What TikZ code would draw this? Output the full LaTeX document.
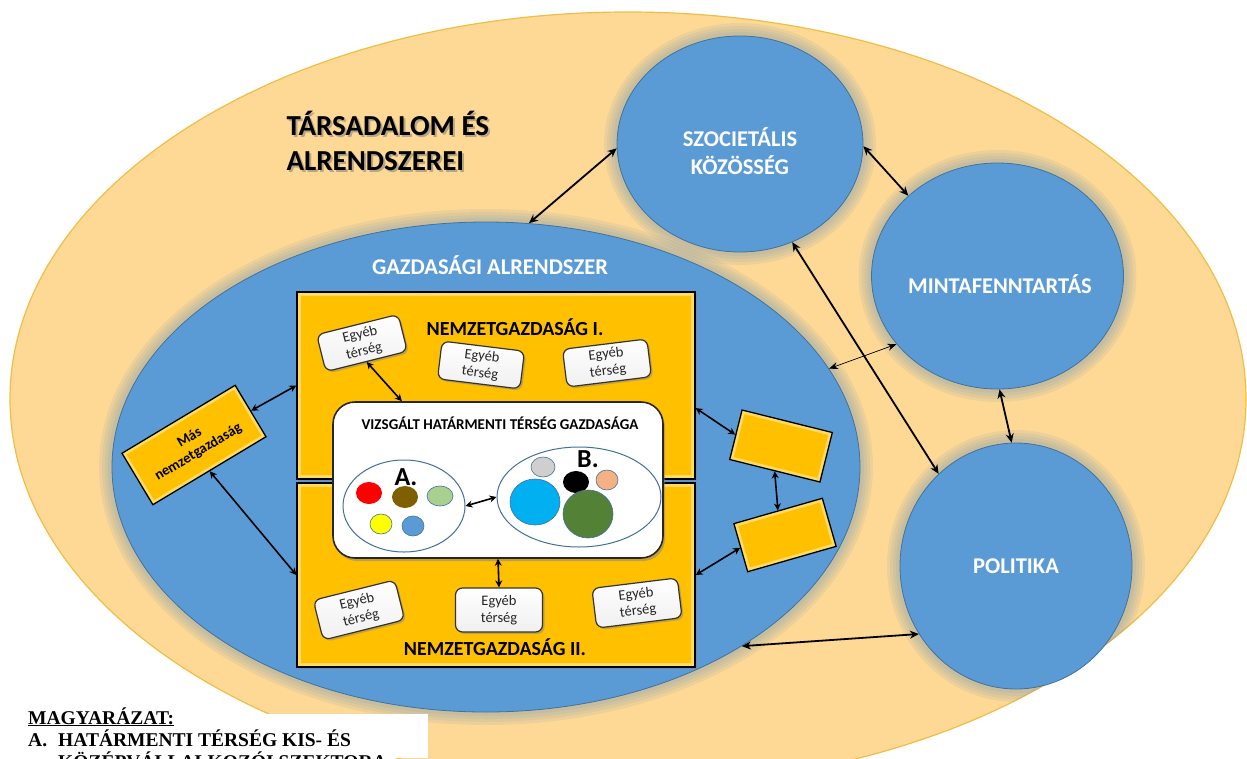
\documentclass[tikz,border=0pt]{standalone}
\usepackage{fontspec}
\setmainfont{Carlito}
\newfontfamily\legendfont{Liberation Serif}
\usetikzlibrary{shapes.geometric,arrows.meta,shadows,calc}
\definecolor{bgorange}{RGB}{254,217,150}
\definecolor{bgedge}{RGB}{238,190,70}
\definecolor{blueF}{RGB}{91,155,213}
\definecolor{blueD}{RGB}{65,113,156}
\definecolor{glowc}{RGB}{125,155,175}
\definecolor{goldF}{RGB}{255,192,0}
\definecolor{goldL}{RGB}{255,218,100}
\definecolor{cRed}{RGB}{255,0,0}
\definecolor{cBrown}{RGB}{127,96,0}
\definecolor{cLgreen}{RGB}{169,208,142}
\definecolor{cYellow}{RGB}{255,255,0}
\definecolor{cGray}{RGB}{208,206,206}
\definecolor{cSalmon}{RGB}{244,177,131}
\definecolor{cCyan}{RGB}{0,176,240}
\definecolor{cGreen}{RGB}{83,129,53}
\tikzset{
  bluecirc/.style={ellipse, fill=blueF, draw=blueD, line width=0.8pt, inner sep=0pt},
  whitelbl/.style={text=white, font=\bfseries\fontsize{22.5}{28}\selectfont, align=center},
  glowring/.style={draw=glowc, opacity=0.13},
  biarrow/.style={{Stealth[length=9pt,width=8pt]}-{Stealth[length=9pt,width=8pt]}, line width=1.8pt, black},
  thinarrow/.style={{Stealth[length=9pt,width=7pt]}-{Stealth[length=9pt,width=7pt]}, line width=0.7pt, black},
  smallarrow/.style={{Stealth[length=7pt,width=7pt]}-{Stealth[length=7pt,width=7pt]}, line width=1.6pt, black},
  egyeb/.style={rectangle, rounded corners=7pt, top color=white, bottom color=black!6, draw=black!80, line width=1.2pt, align=center, font=\fontsize{14.5}{17}\selectfont, text=black!85, inner sep=0pt, drop shadow={shadow xshift=2pt, shadow yshift=-2pt, opacity=0.45}},
  goldbox/.style={rectangle, fill=goldL, draw=black, line width=1.3pt, inner sep=0pt},
  goldin/.style={rectangle, fill=goldF, inner sep=0pt},
  dot/.style={ellipse, inner sep=0pt},
  setell/.style={ellipse, draw=blueD, line width=1pt, inner sep=0pt},
}
\newcommand\myglow[4]{%
  \foreach \w in {26,20,14,8}{\draw[glowring, line width=\w pt] (#1,#2) ellipse [x radius=#3, y radius=#4];}}
\begin{document}
\begin{tikzpicture}[x=1pt,y=-1pt]
\useasboundingbox (0,0) rectangle (1247,758);
% outer society ellipse
\fill[bgorange, draw=bgedge, line width=1.2pt] (628,399) ellipse [x radius=618, y radius=387];
% glows
\begin{scope}
\clip (628,399) ellipse [x radius=618, y radius=387];
\myglow{486}{467}{374}{245}
\myglow{740}{144}{123}{108}
\myglow{997.5}{276}{126}{113}
\myglow{1016}{566}{116}{123}
\end{scope}
% blue shapes
\node[bluecirc, minimum width=748pt, minimum height=490pt] (gaz) at (486,467) {};
\node[bluecirc, minimum width=246pt, minimum height=216pt] (szoc) at (740,144) {};
\node[bluecirc, minimum width=252pt, minimum height=226pt] (minta) at (997.5,276) {};
\node[bluecirc, minimum width=232pt, minimum height=246pt] (pol) at (1016,566) {};
\node[whitelbl] (szocT) at (740,151) {SZOCIETÁLIS\\KÖZÖSSÉG};
\node[whitelbl] (mintaT) at (1000,284) {MINTAFENNTARTÁS};
\node[whitelbl] (polT) at (1016,566) {POLITIKA};
\node[whitelbl] (gazT) at (490,265) {GAZDASÁGI ALRENDSZER};
% title
\node[anchor=west, align=left, text=black!55, opacity=0.5, font=\bfseries\fontsize{29}{35}\selectfont] at (285,143) {TÁRSADALOM ÉS\\ALRENDSZEREI};
\node[anchor=west, align=left, font=\bfseries\fontsize{29}{35}\selectfont] (title) at (283,141) {TÁRSADALOM ÉS\\ALRENDSZEREI};
% national economies
\node[goldbox, minimum width=398pt, minimum height=187pt, drop shadow={shadow xshift=2pt, shadow yshift=-2pt, opacity=0.5}] (n1) at (496,385.5) {};
\node[goldin, minimum width=390pt, minimum height=179pt] at (n1) {};
\node[goldbox, minimum width=398pt, minimum height=184pt, drop shadow={shadow xshift=2pt, shadow yshift=-2pt, opacity=0.5}] (n2) at (496,575) {};
\node[goldin, minimum width=390pt, minimum height=176pt] at (n2) {};
\node[font=\bfseries\fontsize{20}{22}\selectfont] (n1T) at (515,327) {NEMZETGAZDASÁG I.};
\node[font=\bfseries\fontsize{20}{22}\selectfont] (n2T) at (495,647) {NEMZETGAZDASÁG II.};
% other national economy
\node[goldbox, minimum width=132pt, minimum height=60pt, rotate=31] (mas) at (194,445) {};
\node[goldin, minimum width=125pt, minimum height=53pt, rotate=31, align=center, font=\bfseries\fontsize{14.5}{17}\selectfont] (masT) at (mas) {Más\\nemzetgazdaság};
\node[goldbox, minimum width=93pt, minimum height=51pt, rotate=-14] (r1) at (781,446) {};
\node[goldin, minimum width=86pt, minimum height=44pt, rotate=-14] at (r1) {};
\node[goldbox, minimum width=92pt, minimum height=50pt, rotate=16] (r2) at (785,535) {};
\node[goldin, minimum width=85pt, minimum height=43pt, rotate=16] at (r2) {};
% other regions
\node[egyeb, minimum width=84pt, minimum height=38pt, rotate=14] (e1) at (362,343) {Egyéb\\térség};
\node[egyeb, minimum width=83pt, minimum height=38pt, rotate=-7] (e2) at (481,365) {Egyéb\\térség};
\node[egyeb, minimum width=85pt, minimum height=38pt, rotate=7] (e3) at (607,363) {Egyéb\\térség};
\node[egyeb, minimum width=84pt, minimum height=41pt, rotate=14] (e4) at (359,610) {Egyéb\\térség};
\node[egyeb, minimum width=87pt, minimum height=44pt] (e5) at (499,610) {Egyéb\\térség};
\node[egyeb, minimum width=86pt, minimum height=40pt, rotate=7] (e6) at (637,603) {Egyéb\\térség};
% examined region
\node[rectangle, rounded corners=22pt, fill=white, draw=black!85, line width=1.6pt, minimum width=330pt, minimum height=156pt, inner sep=0pt, drop shadow={shadow xshift=2pt, shadow yshift=-3pt, opacity=0.5}] (vb) at (498,480) {};
\node[font=\bfseries\fontsize{15}{17}\selectfont] (vbT) at (500,423) {VIZSGÁLT HATÁRMENTI TÉRSÉG GAZDASÁGA};
\node[setell, minimum width=122pt, minimum height=92pt] (ea) at (404,506) {};
\node[setell, minimum width=164pt, minimum height=100pt] (eb) at (579,497) {};
\node[dot, fill=cRed, minimum width=26pt, minimum height=22pt] (a1) at (369,493) {};
\node[dot, fill=cBrown, minimum width=26pt, minimum height=22pt] (a2) at (405,497) {};
\node[dot, fill=cLgreen, draw=blueD, line width=0.6pt, minimum width=26pt, minimum height=20pt] (a3) at (440,496) {};
\node[dot, fill=cYellow, draw=blueD, line width=0.6pt, minimum width=22pt, minimum height=20pt] (a4) at (381,524) {};
\node[dot, fill=blueF, draw=blueD, line width=0.6pt, minimum width=22pt, minimum height=20pt] (a5) at (413,526) {};
\node[dot, fill=cGray, draw=blueD, line width=0.6pt, minimum width=24pt, minimum height=20pt] (b1) at (543,467) {};
\node[dot, fill=black, minimum width=26pt, minimum height=22pt] (b2) at (576,482) {};
\node[dot, fill=cSalmon, draw=blueD, line width=0.6pt, minimum width=22pt, minimum height=20pt] (b3) at (607,480) {};
\node[dot, fill=cCyan, draw=blueD, line width=0.6pt, minimum width=50pt, minimum height=46pt] (b4) at (535,502) {};
\node[dot, fill=cGreen, draw=blueD, line width=0.6pt, minimum width=50pt, minimum height=48pt] (b5) at (588,514) {};
\node[font=\bfseries\fontsize{26}{28}\selectfont] (aT) at (406,477) {A.};
\node[font=\bfseries\fontsize{26}{28}\selectfont] (bT) at (588,459) {B.};
% legend
\fill[white] (0,714) rectangle (428,758);
\node[anchor=base west, inner sep=0pt, font=\legendfont\bfseries\fontsize{19.5}{22}\selectfont] (lg1) at (28,724) {\underline{MAGYARÁZAT:}};
\node[anchor=base west, inner sep=0pt, font=\legendfont\bfseries\fontsize{19.5}{22}\selectfont] (lg2a) at (28,746) {A.};
\node[anchor=base west, inner sep=0pt, font=\legendfont\bfseries\fontsize{19.5}{22}\selectfont] (lg2) at (58,746) {HATÁRMENTI TÉRSÉG KIS- ÉS};
\node[anchor=base west, inner sep=0pt, font=\legendfont\bfseries\fontsize{19.5}{22}\selectfont] (lg3) at (58,768) {KÖZÉPVÁLLALKOZÓI SZEKTORA};
% connectors
\draw[biarrow] (gaz.80) -- (szoc.182);
\draw[biarrow] (szoc.359) -- (minta.138);
\draw[biarrow] (szoc.298) -- (pol.130);
\draw[thinarrow] (gaz.16) -- (minta.214);
\draw[biarrow] (minta.271) -- (pol.92);
\draw[biarrow] (gaz.-35) -- (pol.215);
\draw[smallarrow] (e1.south) -- ($(vb.north west)!0.21!(vb.north east)$);
\draw[smallarrow] (vb.south) -- (e5.north);
\draw[smallarrow] (ea.east) -- (eb.west);
\draw[smallarrow] (mas.east) -- (n1.west);
\draw[smallarrow] (mas.south) -- (n2.west);
\draw[smallarrow] ($(n1.north east)!0.62!(n1.south east)$) -- (r1.west);
\draw[smallarrow] (r1.south) -- (r2.north);
\draw[smallarrow] (r2.west) -- (n2.east);
\end{tikzpicture}
\end{document}
